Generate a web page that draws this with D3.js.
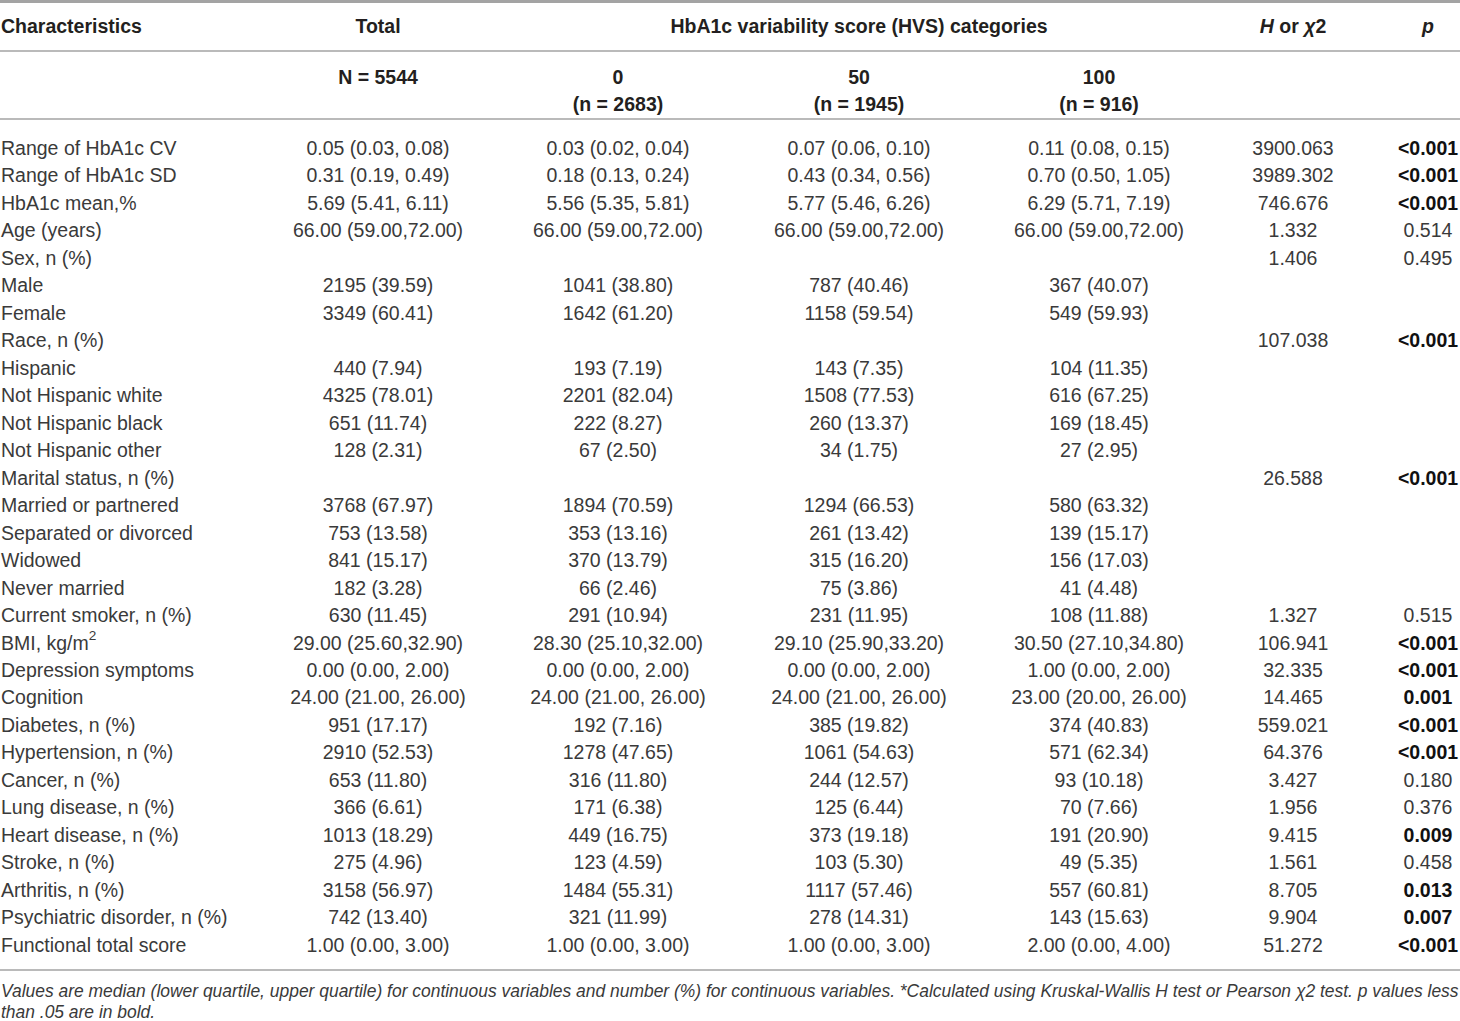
<!DOCTYPE html>
<html>
<head>
<meta charset="utf-8">
<script src="https://cdn.jsdelivr.net/npm/d3@7"></script>
<style>
  body { margin: 0; background: #fff; }
  svg text { font-family: "Liberation Sans", Arial, sans-serif; fill: #231f20; }
</style>
</head>
<body>
<div id="table"></div>
<script>
// --- table contents ---
const characteristics = [
    "Range of HbA1c CV", "Range of HbA1c SD", "HbA1c mean,%", "Age (years)", "Sex, n (%)",
    "Male", "Female", "Race, n (%)", "Hispanic", "Not Hispanic white", "Not Hispanic black",
    "Not Hispanic other", "Marital status, n (%)", "Married or partnered", "Separated or divorced",
    "Widowed", "Never married", "Current smoker, n (%)", "BMI, kg/m^2", "Depression symptoms",
    "Cognition", "Diabetes, n (%)", "Hypertension, n (%)", "Cancer, n (%)", "Lung disease, n (%)",
    "Heart disease, n (%)", "Stroke, n (%)", "Arthritis, n (%)", "Psychiatric disorder, n (%)",
    "Functional total score"
];

const totalCol = [
    "0.05 (0.03, 0.08)", "0.31 (0.19, 0.49)", "5.69 (5.41, 6.11)", "66.00 (59.00,72.00)", "",
    "2195 (39.59)", "3349 (60.41)", "", "440 (7.94)", "4325 (78.01)", "651 (11.74)",
    "128 (2.31)", "", "3768 (67.97)", "753 (13.58)",
    "841 (15.17)", "182 (3.28)", "630 (11.45)", "29.00 (25.60,32.90)", "0.00 (0.00, 2.00)",
    "24.00 (21.00, 26.00)", "951 (17.17)", "2910 (52.53)", "653 (11.80)", "366 (6.61)",
    "1013 (18.29)", "275 (4.96)", "3158 (56.97)", "742 (13.40)",
    "1.00 (0.00, 3.00)"
];

const hvs0 = [
    "0.03 (0.02, 0.04)", "0.18 (0.13, 0.24)", "5.56 (5.35, 5.81)", "66.00 (59.00,72.00)", "",
    "1041 (38.80)", "1642 (61.20)", "", "193 (7.19)", "2201 (82.04)", "222 (8.27)",
    "67 (2.50)", "", "1894 (70.59)", "353 (13.16)",
    "370 (13.79)", "66 (2.46)", "291 (10.94)", "28.30 (25.10,32.00)", "0.00 (0.00, 2.00)",
    "24.00 (21.00, 26.00)", "192 (7.16)", "1278 (47.65)", "316 (11.80)", "171 (6.38)",
    "449 (16.75)", "123 (4.59)", "1484 (55.31)", "321 (11.99)",
    "1.00 (0.00, 3.00)"
];

const hvs50 = [
    "0.07 (0.06, 0.10)", "0.43 (0.34, 0.56)", "5.77 (5.46, 6.26)", "66.00 (59.00,72.00)", "",
    "787 (40.46)", "1158 (59.54)", "", "143 (7.35)", "1508 (77.53)", "260 (13.37)",
    "34 (1.75)", "", "1294 (66.53)", "261 (13.42)",
    "315 (16.20)", "75 (3.86)", "231 (11.95)", "29.10 (25.90,33.20)", "0.00 (0.00, 2.00)",
    "24.00 (21.00, 26.00)", "385 (19.82)", "1061 (54.63)", "244 (12.57)", "125 (6.44)",
    "373 (19.18)", "103 (5.30)", "1117 (57.46)", "278 (14.31)",
    "1.00 (0.00, 3.00)"
];

const hvs100 = [
    "0.11 (0.08, 0.15)", "0.70 (0.50, 1.05)", "6.29 (5.71, 7.19)", "66.00 (59.00,72.00)", "",
    "367 (40.07)", "549 (59.93)", "", "104 (11.35)", "616 (67.25)", "169 (18.45)",
    "27 (2.95)", "", "580 (63.32)", "139 (15.17)",
    "156 (17.03)", "41 (4.48)", "108 (11.88)", "30.50 (27.10,34.80)", "1.00 (0.00, 2.00)",
    "23.00 (20.00, 26.00)", "374 (40.83)", "571 (62.34)", "93 (10.18)", "70 (7.66)",
    "191 (20.90)", "49 (5.35)", "557 (60.81)", "143 (15.63)",
    "2.00 (0.00, 4.00)"
];

const hStat = [
    "3900.063", "3989.302", "746.676", "1.332", "1.406",
    "", "", "107.038", "", "", "",
    "", "26.588", "", "",
    "", "", "1.327", "106.941", "32.335",
    "14.465", "559.021", "64.376", "3.427", "1.956",
    "9.415", "1.561", "8.705", "9.904",
    "51.272"
];

const pVals = [
    "<0.001", "<0.001", "<0.001", "0.514", "0.495",
    "", "", "<0.001", "", "", "",
    "", "<0.001", "", "",
    "", "", "0.515", "<0.001", "<0.001",
    "0.001", "<0.001", "<0.001", "0.180", "0.376",
    "0.009", "0.458", "0.013", "0.007",
    "<0.001"
];

const groupLabels = ["0", "50", "100"];
const groupNs = ["(n = 2683)", "(n = 1945)", "(n = 916)"];
const totalN = "N = 5544";
const footnote = [
    "Values are median (lower quartile, upper quartile) for continuous variables and number (%) for continuous variables. *Calculated using Kruskal-Wallis H test or Pearson \u03c72 test. p values less",
    "than .05 are in bold."
];

const width = 1460, height = 1021;

const svg = d3.select("#table")
    .append("svg")
    .attr("width", width)
    .attr("height", height);

// column centres
const colKeys = ["total", "g0", "g50", "g100", "h", "p"];
const x = d3.scaleOrdinal()
    .domain(colKeys)
    .range([378, 618, 859, 1099, 1293, 1428]);

// row positions
const y = d3.scalePoint()
    .domain(d3.range(characteristics.length))
    .range([148, 945]);

const ruleColor = "#a3a3a3";
const fs = 19.5;
const bodyColor = "#3a3a3a";

// horizontal rules
[[1.5, 3], [51, 1.6], [119, 1.6], [970, 1.6]].forEach(([yy, w]) => {
    svg.append("line")
        .attr("x1", 0).attr("x2", width)
        .attr("y1", yy).attr("y2", yy)
        .attr("stroke", ruleColor)
        .attr("stroke-width", w);
});

// header row 1
const head = svg.append("g").attr("font-weight", "bold").attr("font-size", fs);
head.append("text").attr("x", 1).attr("y", 26).attr("dy", "0.35em").text("Characteristics");
head.append("text").attr("x", x("total")).attr("y", 26).attr("dy", "0.35em")
    .attr("text-anchor", "middle").text("Total");
head.append("text").attr("x", x("g50")).attr("y", 26).attr("dy", "0.35em")
    .attr("text-anchor", "middle").text("HbA1c variability score (HVS) categories");
const hHead = head.append("text").attr("x", x("h")).attr("y", 26).attr("dy", "0.35em")
    .attr("text-anchor", "middle");
hHead.append("tspan").attr("font-style", "italic").text("H");
hHead.append("tspan").text(" or ");
hHead.append("tspan").attr("font-style", "italic").text("\u03c7");
hHead.append("tspan").text("2");
head.append("text").attr("x", x("p")).attr("y", 26).attr("dy", "0.35em")
    .attr("text-anchor", "middle").attr("font-style", "italic").text("p");

// header row 2
head.append("text").attr("x", x("total")).attr("y", 77).attr("dy", "0.35em")
    .attr("text-anchor", "middle").text(totalN);
["g0", "g50", "g100"].forEach((k, i) => {
    head.append("text").attr("x", x(k)).attr("y", 77).attr("dy", "0.35em")
        .attr("text-anchor", "middle").text(groupLabels[i]);
    head.append("text").attr("x", x(k)).attr("y", 104).attr("dy", "0.35em")
        .attr("text-anchor", "middle").text(groupNs[i]);
});

// body rows
const body = svg.append("g").attr("font-size", fs);

const labels = body.selectAll("text.label")
    .data(characteristics)
    .join("text")
    .attr("class", "label")
    .attr("x", 1)
    .attr("y", (d, i) => y(i))
    .attr("dy", "0.35em")
    .style("fill", bodyColor);

labels.each(function(d) {
    const t = d3.select(this);
    if (d.includes("^")) {
        const [base, sup] = d.split("^");
        t.append("tspan").text(base);
        t.append("tspan").attr("font-size", fs * 0.7).attr("dy", "-0.7em").text(sup);
    } else {
        t.text(d);
    }
});

const columns = [
    ["total", totalCol], ["g0", hvs0], ["g50", hvs50], ["g100", hvs100], ["h", hStat]
];
columns.forEach(([k, vals]) => {
    body.selectAll(`text.c-${k}`)
        .data(vals)
        .join("text")
        .attr("class", `c-${k}`)
        .attr("x", x(k))
        .attr("y", (d, i) => y(i))
        .attr("dy", "0.35em")
        .attr("text-anchor", "middle")
        .style("fill", bodyColor)
        .text(d => d);
});

const isSig = d => d !== "" && parseFloat(d.replace("<", "")) < 0.05;
body.selectAll("text.c-p")
    .data(pVals)
    .join("text")
    .attr("class", "c-p")
    .attr("x", x("p"))
    .attr("y", (d, i) => y(i))
    .attr("dy", "0.35em")
    .attr("text-anchor", "middle")
    .attr("font-weight", d => isSig(d) ? "bold" : null)
    .style("fill", d => isSig(d) ? "#111" : bodyColor)
    .text(d => d);

// footnote
svg.append("g")
    .attr("font-size", 17.45)
    .attr("font-style", "italic")
    .selectAll("text")
    .data(footnote)
    .join("text")
    .attr("x", 1)
    .attr("y", (d, i) => 991 + i * 20.5)
    .attr("dy", "0.35em")
    .style("fill", "#3a3a3a")
    .text(d => d);
</script>
</body>
</html>
